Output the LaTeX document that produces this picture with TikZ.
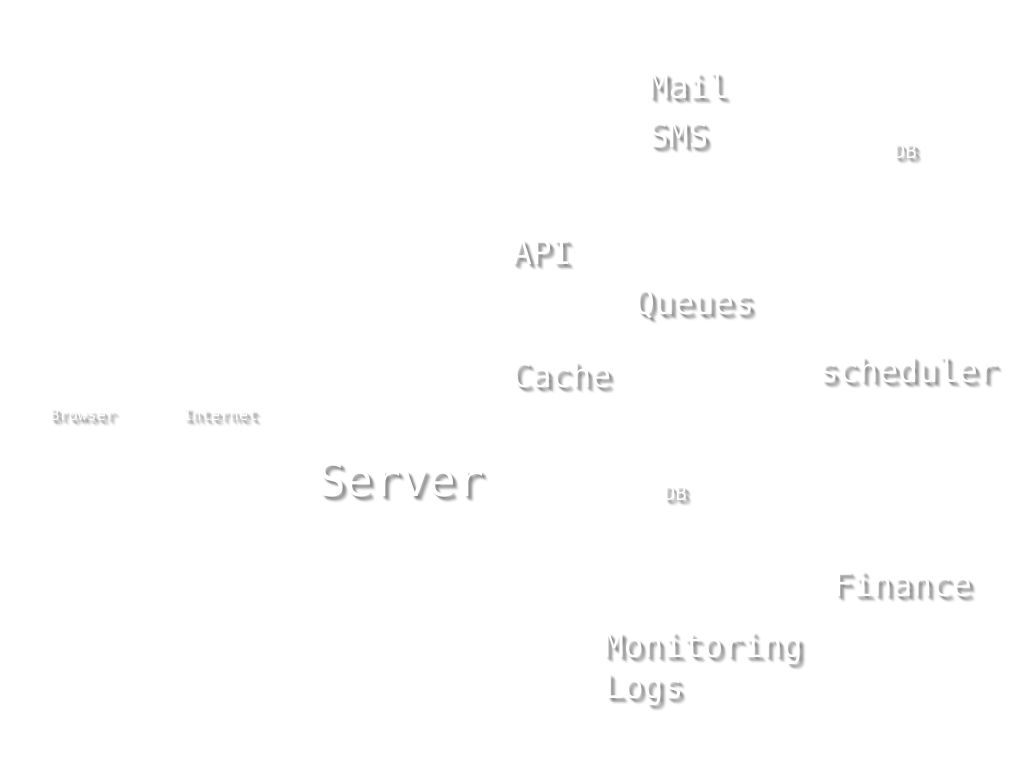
\documentclass[tikz,border=0pt]{standalone}
\usepackage{fontspec}
\newfontfamily\monofont{DejaVu Sans Mono}
\tikzset{lbl/.style={anchor=base west, inner sep=0pt, outer sep=0pt, text=white, font=\monofont}}
\newcommand\shlabel[5]{%
  \foreach \dx/\dy/\op in {1/1/0.04,2/2/0.05,3/3/0.05,4/4/0.05,5/5/0.04,6/6/0.03,3/2/0.04,2/3/0.04,4/3/0.04,3/4/0.04,5/4/0.03,4/5/0.03,2/4/0.03,4/2/0.03,6/4/0.02,4/6/0.02}{%
    \node[lbl, text=black, opacity=\op] at (#2+\dx,#3+\dy) {\fontsize{#4}{#4}\selectfont #5};
  }%
  \node[lbl] (#1) at (#2,#3) {\fontsize{#4}{#4}\selectfont #5};
}
\begin{document}
\begin{tikzpicture}[x=1pt,y=-1pt]
\useasboundingbox[fill=white] (0,0) rectangle (1025,769);
\shlabel{mail}{649}{98}{33}{Mail}
\shlabel{sms}{649}{147}{33}{SMS}
\shlabel{dbtop}{894}{158}{19}{DB}
\shlabel{api}{512}{264}{33}{API}
\shlabel{queues}{635}{314}{33}{Queues}
\shlabel{cache}{512}{387}{33}{Cache}
\shlabel{scheduler}{819}{382}{33}{scheduler}
\shlabel{browser}{50}{420}{15.5}{Browser}
\shlabel{internet}{183}{420}{15.5}{Internet}
\shlabel{server}{318}{496}{46}{Server}
\shlabel{dbmid}{664}{500}{19}{DB}
\shlabel{finance}{833}{596}{33}{Finance}
\shlabel{monitoring}{604}{657}{33}{Monitoring}
\shlabel{logs}{604}{698}{33}{Logs}
\end{tikzpicture}
\end{document}
